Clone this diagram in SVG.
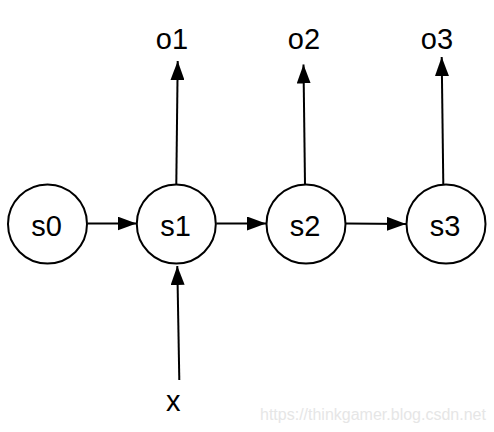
<svg xmlns="http://www.w3.org/2000/svg" width="494" height="432" viewBox="0 0 494 432">
<style>
.node circle{fill:#fff;stroke:#000;stroke-width:2}
.lbl{font-family:Helvetica,"Liberation Sans",Arial,sans-serif;font-size:29px;fill:#000;text-anchor:middle}
.edge{stroke:#000;stroke-width:2;fill:none;marker-end:url(#ah)}
.wm{font-family:"Liberation Sans",Arial,sans-serif;font-size:16px;fill:#e6e6e6}
</style>
<defs>
<marker id="ah" markerUnits="userSpaceOnUse" markerWidth="19" markerHeight="14" refX="19" refY="7" orient="auto">
<path d="M0,0 L19,7 L0,14 z" fill="#000"/>
</marker>
</defs>
<rect width="494" height="432" fill="#fff"/>
<g id="connectors">
<line class="edge" x1="87.5" y1="223.5" x2="136.5" y2="223.5"/>
<line class="edge" x1="216.3" y1="223.5" x2="266" y2="223.5"/>
<line class="edge" x1="346" y1="223.5" x2="406" y2="224"/>
<line class="edge" x1="176.3" y1="184" x2="177.7" y2="61"/>
<line class="edge" x1="305" y1="184.5" x2="303.5" y2="64.5"/>
<line class="edge" x1="443.3" y1="184" x2="441.7" y2="57"/>
<line class="edge" x1="179.3" y1="380" x2="177.3" y2="266"/>
</g>
<g id="s0" class="node"><circle cx="47.5" cy="224" r="39.5"/><text class="lbl" x="46.5" y="236">s0</text></g>
<g id="s1" class="node"><circle cx="176.3" cy="224" r="39.5"/><text class="lbl" x="175.5" y="236">s1</text></g>
<g id="s2" class="node"><circle cx="306" cy="224" r="39.5"/><text class="lbl" x="305" y="236">s2</text></g>
<g id="s3" class="node"><circle cx="446" cy="224" r="39.5"/><text class="lbl" x="445" y="236">s3</text></g>
<g id="o1"><text class="lbl" x="172" y="49">o1</text></g>
<g id="o2"><text class="lbl" x="304" y="49">o2</text></g>
<g id="o3"><text class="lbl" x="437" y="49">o3</text></g>
<g id="x"><text class="lbl" x="173.3" y="411">x</text></g>
<text class="wm" x="260" y="420">https://thinkgamer.blog.csdn.net</text>
</svg>
